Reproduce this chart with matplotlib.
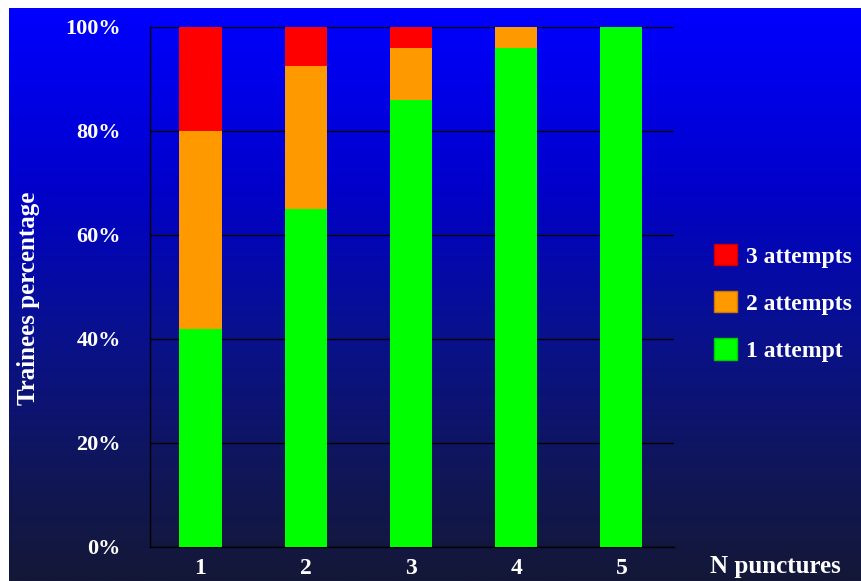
import numpy as np
import matplotlib
matplotlib.use("Agg")
import matplotlib.pyplot as plt
from matplotlib.colors import LinearSegmentedColormap
from matplotlib.patches import Patch

# share of trainees (%) by number of punctures
punctures = [1, 2, 3, 4, 5]
one_attempt = [42, 65, 86, 96, 100]
two_attempts = [38, 27.5, 10, 4, 0]
three_attempts = [20, 7.5, 4, 0, 0]
yticks = [0, 20, 40, 60, 80, 100]

W, H = 861, 581
fig = plt.figure(figsize=(W / 100, H / 100), dpi=100, facecolor="white")

# blue -> navy backdrop
bg = fig.add_axes([9 / W, 0, 1 - 9 / W, 1 - 8 / H])
cmap = LinearSegmentedColormap.from_list(
    "slide",
    [(0.0, (0 / 255, 0 / 255, 255 / 255)),
     (0.3, (0 / 255, 0 / 255, 205 / 255)),
     (0.55, (8 / 255, 16 / 255, 145 / 255)),
     (0.8, (16 / 255, 22 / 255, 90 / 255)),
     (1.0, (20 / 255, 24 / 255, 55 / 255))])
grad = np.linspace(0, 1, 256).reshape(-1, 1)
bg.imshow(grad, aspect="auto", cmap=cmap, extent=[0, 1, 0, 1])
bg.set_axis_off()

ax = fig.add_axes([150 / W, (H - 547) / H, (674 - 150) / W, (547 - 27) / H])
ax.patch.set_alpha(0)

font = {"family": "Liberation Serif", "weight": "bold", "color": "white"}

one = np.array(one_attempt)
two = np.array(two_attempts)
three = np.array(three_attempts)
ax.bar(punctures, one, width=0.4, color="#00ff00", zorder=3)
ax.bar(punctures, two, width=0.4, bottom=one, color="#ff9900", zorder=3)
ax.bar(punctures, three, width=0.4, bottom=one + two, color="#ff0000", zorder=3)

ax.set_xlim(0.52, 5.5)
ax.set_ylim(0, 100)
ax.set_yticks(yticks)
ax.set_yticklabels([f"{v}%" for v in yticks], fontdict=font, fontsize=16)
ax.set_xticks(punctures)
ax.set_xticklabels([str(p) for p in punctures], fontdict=font, fontsize=17)
ax.tick_params(axis="y", length=0, pad=21)
ax.tick_params(axis="x", length=0, pad=8)
ax.grid(axis="y", color="black", linewidth=1, zorder=1)
for side in ["top", "right"]:
    ax.spines[side].set_visible(False)
for side in ["left", "bottom"]:
    ax.spines[side].set_color("black")
    ax.spines[side].set_linewidth(1)

fig.text(29 / W, 1 - 298 / H, "Trainees percentage", rotation=90,
         ha="center", va="center", fontsize=18, **font)
fig.text(775 / W, 1 - 566 / H, "N punctures", ha="center", va="center",
         fontsize=18, **font)

handles = [Patch(facecolor="#ff0000", edgecolor="#cc0000"),
           Patch(facecolor="#ff9900", edgecolor="#cc7700"),
           Patch(facecolor="#00ff00", edgecolor="#00cc00")]
leg = fig.legend(handles, ["3 attempts", "2 attempts", "1 attempt"],
                 loc="center left", bbox_to_anchor=(702 / W, 1 - 303 / H),
                 frameon=False, borderpad=0, handlelength=1.0, handleheight=1.0,
                 handletextpad=0.35, labelspacing=1.0,
                 prop={"family": "Liberation Serif", "weight": "bold", "size": 17})
for t in leg.get_texts():
    t.set_color("white")

fig.savefig("out.png", dpi=100, facecolor="white")
